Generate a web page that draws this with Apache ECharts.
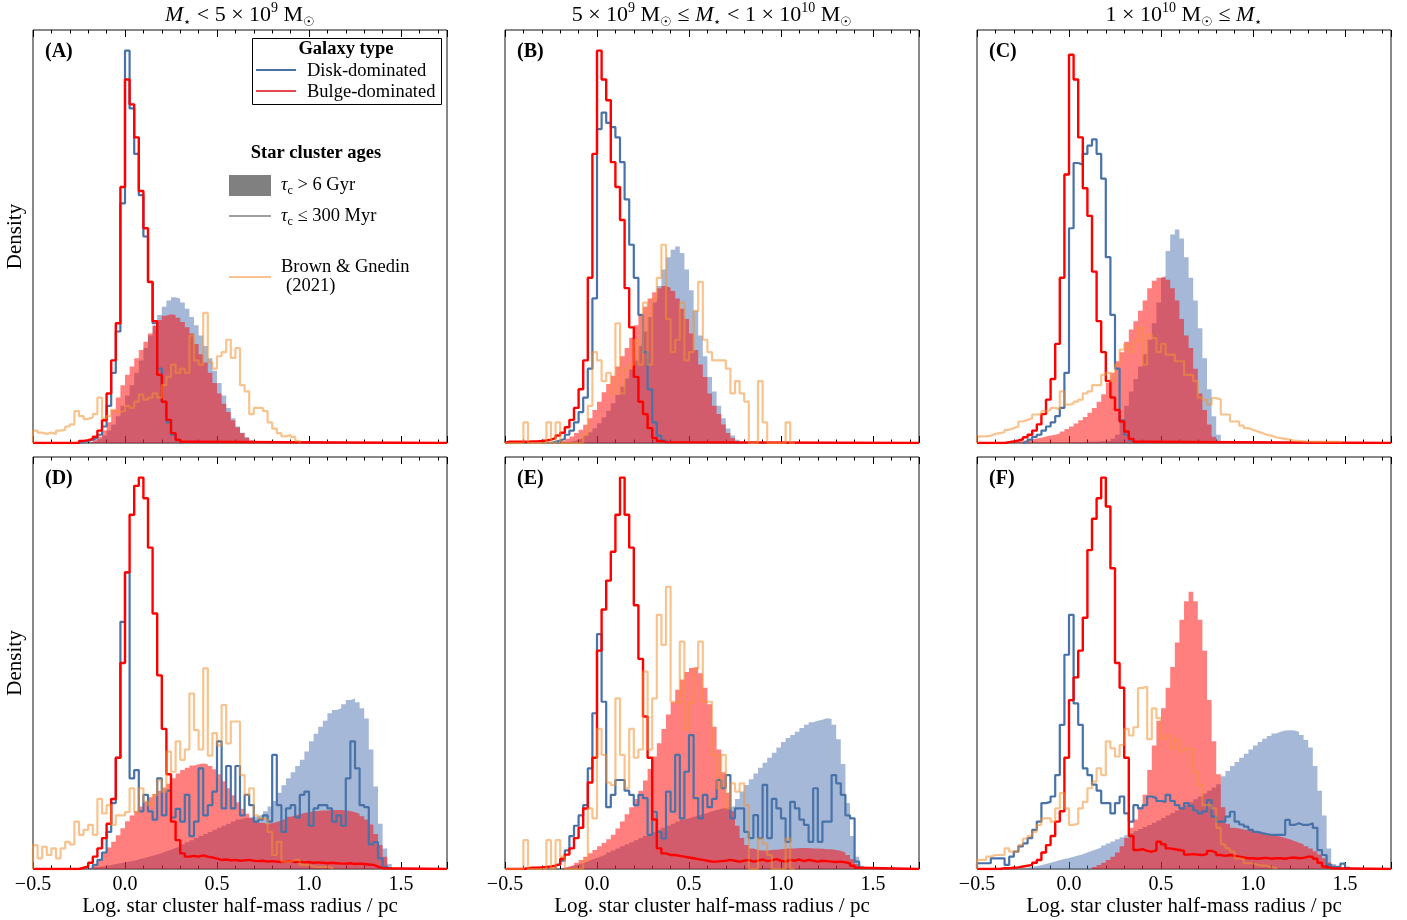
<!DOCTYPE html>
<html>
<head>
<meta charset="utf-8">
<script src="https://cdn.jsdelivr.net/npm/echarts@6/dist/echarts.min.js"></script>
<style>html,body{margin:0;padding:0;background:#fff}#chart{width:1407px;height:920px}</style>
</head>
<body>
<div id="chart"></div>
<script>
// histogram bins: width 0.025 in log r, bin k starts at -0.5 + k*0.025
var BIN = 0.025, X_MIN = -0.5, X_MAX = 1.75;
var xTickLabels = [-0.5, 0, 0.5, 1, 1.5];
var panelLabels = ['(A)', '(B)', '(C)', '(D)', '(E)', '(F)'];
var massTitles = [
  '{i|M}{sub|⋆} < 5 × 10{sup|9} M{sub|☉}',
  '5 × 10{sup|9} M{sub|☉} ≤ {i|M}{sub|⋆} < 1 × 10{sup|10} M{sub|☉}',
  '1 × 10{sup|10} M{sub|☉} ≤ {i|M}{sub|⋆}'
];

// (A) disk-dominated, M < 5e9
var aDiskOld0 = 12;
var aDiskOld = [0.3,0.5,1,1.8,3,4.5,6.5,9,11.5,14,17,20,23,26,28.5,31,33,34.5,35.3,35,34,32.5,30.5,28.5,26,23.5,20.5,17.5,14.5,11.5,8.5,6,4,2.5,1.4,0.6,0.2];
var aBulgeOld0 = 12;
var aBulgeOld = [0.3,0.8,1.5,3,5,8,11,14,16.5,18.5,20.5,22.5,24.5,26.5,28.3,29.8,30.8,31.2,31,30.3,29.3,28,26.5,24,21.5,19.5,17,14.5,12,9.5,7.5,5.5,3.8,2.4,1.3,0.6,0.2];
var aDiskYoung0 = 10;
var aDiskYoung = [0.3,0.5,0.8,1.2,2,4,9,17,27,58,95,81,70,60,50,39,29,18,10,5,2,0.7,0.2];
var aBulgeYoung0 = 10;
var aBulgeYoung = [0.5,0.7,1,1.5,3,5.5,12,20,29,62,88,82,74,61,52,39,29.5,16.5,10,5.6,2.4,0.8,0.3];
var aBG0 = 0;
var aBG = [3,2.5,2.2,2.5,2.2,3,3.2,4,4.5,7.7,6.5,5.8,6.2,7,11,6,6.5,8,7.5,7.7,9,8.5,10,11.7,10.5,11,12,11,14,16,19,17,18,17,26,20,19,31.5,19.5,18,21,22,25,20.6,23,14,12.5,7,8.5,8.5,7.7,5,3.5,2.4,1.6,2,1.5,0.5];

// (B)
var bDiskOld0 = 12;
var bDiskOld = [0.2,0.3,0.5,0.8,1.2,1.8,2.6,3.6,4.8,6.2,7.8,9.6,11.6,13.6,15.6,17.8,20,23.5,27,30.5,34,38,42,45,46.8,47.6,46,42,37,32,26,21,16,12.5,9,6,3.5,1.8,0.8,0.2];
var bBulgeOld0 = 12;
var bBulgeOld = [0.5,1,1.6,2.4,3.2,4.4,6,8,10,12.3,14.3,16.3,18.5,21,23,25.5,28.5,31,33,35,36.5,37.5,38,37.6,36.8,35,32.5,30,26.5,22.5,19,16,12,9,7,4.5,2.4,1.2,0.4];
var bDiskYoung0 = 10;
var bDiskYoung = [0.3,0.6,1,2,3,5,7.5,11,18,35,76,80,77.5,76.5,74,68,59,48,40,31,22,13,5,1.8,0.6];
var bBulgeYoung0 = 0;
var bBulgeYoung = [0.3,0.3,0.3,0.3,0.3,0.4,0.4,0.5,0.6,0.8,1.2,1.8,2.5,3.8,5.6,8.5,13,20,40,70,95,88,83,68,62,54,37.5,28,16,10,7,3.6,1.2,0.5,0.2];
var bBG0 = 0;
var bBG = [0,0,0,0,5,0,0,0,0,5,0,5,0,0,0,0,0,2,9,22,20,15,17,12,29,12,18,19,25,19,34,19,35,40,48,30,22,25,34,20,22,32,39,25,22,20,20,20,18,12,15,12,10,0,0,15,5,0,0,0,0,5,0];

// (C)
var cDiskOld0 = 20;
var cDiskOld = [0.2,0.2,0.2,0.3,0.3,0.3,0.4,0.4,0.5,1,2,5,9,12.5,15.5,18.5,21.5,25,29,34,40,46.5,50.5,51.7,49.5,45,40,34.5,27.8,20.5,13,6.5,2,0.4];
var cBulgeOld0 = 8;
var cBulgeOld = [0.3,0.5,0.7,0.9,1.1,1.3,1.6,1.8,2,2.3,2.8,3.4,4,4.7,5.5,6.3,7.3,8.5,10,11.8,14.5,17,19.8,22,24.5,27.5,29.5,32,34.5,37.5,39.3,40,40.4,39.5,37.5,34.5,30,26,23,18,12,8,4.5,1.5,0.3];
var cDiskYoung0 = 10;
var cDiskYoung = [0.3,0.8,1.5,2,3,4,5,6.5,8.5,17,52,67.8,67.4,70,72,73.5,70,64,45,31,18,5.5,2,0.7,0.2];
var cBulgeYoung0 = 6;
var cBulgeYoung = [0.2,0.4,0.6,0.9,1.4,2,3,4.5,7,10.5,15.5,24,40,65,94,88,74,61.7,55,41.5,29.5,22,15,11,8,5.2,2.8,1,0.3];
var cBG0 = 0;
var cBG = [1.6,1.6,1.8,2.2,2.4,2.6,3.2,3.6,4,5.2,5.6,6,6.9,7,7.7,8,8.5,8.2,12.5,9.3,9.5,10,10.5,12,12.5,14,14,16.5,17,15,19,22.6,23.8,22,24.6,27.8,19,26.2,25.4,22,24,21.4,21.4,19.8,19.8,16.5,16.5,15,11,10.5,9.3,10.9,10.5,6.9,6.9,5.2,5.2,4.2,3.6,3.2,2.8,2.4,2,1.8,1.4,1.2,1,0.8,0.6,0.5,0.4,0.3,0.3,0.3,0.3,0.3,0.3,0.3,0.3];

// (D) bulge-dominated
var dDiskOld0 = 10;
var dDiskOld = [0.2,0.3,0.4,0.5,0.6,0.8,1,1.2,1.4,1.6,1.8,2,2.3,2.6,2.9,3.2,3.5,3.9,4.3,4.7,5.1,5.5,6,6.5,7,7.5,8,8.5,9,9.5,10,10.5,11,11.5,12,12.3,12.5,12.6,12.8,13.2,14,15.2,16.5,18.5,20.3,22,23.5,25,26.5,28.5,31,32.8,34.5,36,37.8,38.6,39,40,41,41.4,40.5,39,36.5,29,20,11,5,1.2];
var dBulgeOld0 = 12;
var dBulgeOld = [0.3,1,2.4,3.9,5.2,6.6,8.2,9.9,11.6,13,14.1,15.2,16.3,17.4,18.2,19,19.8,20.7,22,23.2,24,24.6,25.1,25.4,25.6,25.5,25,24.2,23,21.3,19.6,17.9,16.2,14.6,13.4,12.4,11.7,11.2,11,11.1,11.4,11.8,12.2,12.7,13,13.3,13.6,13.8,14,14.1,14.2,14.2,14.3,14.3,14.3,14.2,14.1,13.8,13.4,12.8,12,10.8,8.5,5.8,3,0.5];
var dDiskYoung0 = 13;
var dDiskYoung = [1,2.2,4,9,16,27,60,72,22,24,14,18,14,12,22,13,19,12.5,14.6,11.5,18,8,11.5,24.4,13,15.5,18.8,31,14.7,25,14.7,25,13,18,15.5,11.5,12,13,11.5,27.7,15.5,9,14.7,15.5,12.5,18,18.8,10.5,14.7,15.5,15.5,14.7,11.5,13,10.5,22,31,24.4,15.5,15,6,6.5,2.6,0.5];
var dBulgeYoung0 = 10;
var dBulgeYoung = [0.3,0.6,1.5,3,5,7.5,11,17,27,50,72,86,93,95,90,78,62,47,34,23,11.5,7,3.8,3,3.2,3,3.3,3,2.8,2.5,2.2,2.3,2.1,2.2,2,2.1,2.2,2,1.9,2,1.8,1.9,1.8,1.7,1.8,1.9,1.7,1.8,1.6,1.7,1.5,1.6,1.5,1.4,1.5,1.4,1.3,1.3,1.4,1.2,1.3,1.2,1.1,1,0.6,0.2];
var dBG0 = 0;
var dBG = [5.8,2.6,5.4,3.4,5,2.6,5,6.6,6,11.5,8.3,9.5,10.7,8.3,17,13.5,15.5,10.7,13,13,13.8,19.6,13.8,19.6,16.3,15.5,18,21.6,18.8,28.5,23.6,31,26.5,29,42.6,33.7,29,48.7,27.5,33,30,39.8,30.5,35.8,35.8,22.8,18,19.6,13,12.3,12,9,3.4,6.6,1.8,1.8,2.2,2.2,1,1,0.6,0.5,0.5,0.5,0.3];

// (E)
var eDiskOld0 = 12;
var eDiskOld = [0.3,0.5,0.8,1.1,1.5,1.9,2.3,2.7,3.1,3.5,4,4.5,5,5.5,6,6.5,7,7.5,8,8.5,9,9.5,10,10.5,11,11.5,12,12.3,12.6,13,13.3,13.6,14,14.3,14.6,14.8,15,15.3,17,18.8,20.4,21.8,23.2,24.6,25.8,27,28.2,29.5,30.8,31.8,32.5,33.3,34.2,35,35.6,36,36.2,36.6,36.4,35,31.5,25.5,16,8,3,0.8];
var eBulgeOld0 = 12;
var eBulgeOld = [0.3,0.6,1,1.5,2.2,3,3.8,4.6,5.5,6.3,7.2,8.3,9.8,11.5,13.3,15,17,19,21.5,24.3,27.3,30.5,34,37.5,40.5,43.5,46,47.8,48.8,49.1,47.5,44,40,34.5,29,23.5,18.5,14,10.5,7.5,5.8,5,4.6,4.5,4.5,4.6,4.7,4.8,4.9,5,5,5.1,5.1,5.1,5,5,4.9,4.8,4.8,4.6,4.4,4,3.4,2.4,1.2,0.3];
var eDiskYoung0 = 11;
var eDiskYoung = [1,2,4.5,8,10.5,13,15.5,24.4,37.8,57,40.6,15,18,21.6,21.6,19,18,15.5,18,17.2,8.3,13.9,9,7.4,18.8,13.9,27.7,12.3,23.6,32.5,17.2,12.3,18,15,17,21.6,19.6,22.8,12.3,14.7,14.7,9,7.5,13.1,7.5,20.4,7.5,17,14.7,12.3,6.6,16.3,14.7,12,10.7,6.6,19.6,6.6,11.5,11.5,22.8,20.8,18,13,12.3,1.8,0.3];
var eBulgeYoung0 = 4;
var eBulgeYoung = [0.2,0.3,0.3,0.4,0.5,0.6,0.8,1.2,2.5,3.5,5,7.5,10,14.7,21,27,53,63,70,77,86,95,86,78,64,51,37,27,12,5,3.8,3.4,3.4,3.2,3,2.8,2.6,2.4,2.2,2,1.8,1.8,1.9,2,2.2,2,1.8,2,2.2,1.8,2,2.3,1.9,2.1,2.4,2,1.8,2.2,2,2.3,1.9,2.2,2,1.8,2,1.9,1.8,1.7,1.8,1.6,1.4,0.8,0.3];
var eBG0 = 0;
var eBG = [0,0,0,0,7,0,0,0,0,7,0,7,3,0,0,0,0,2,14.7,12.3,34,27.7,21,20.4,41.4,27.7,19.6,34,27,29,47.9,29,41.4,61.7,54.4,68.5,40.6,40.2,55.2,34,40.4,48.7,55.2,40.6,40.6,27.7,19.6,27.7,14.7,20.8,18.8,20.8,15.5,0,0,7.4,6.2,3.4,0,0,0,7.4,0];

// (F)
var fDiskOld0 = 10;
var fDiskOld = [0.3,0.5,0.7,0.9,1.2,1.5,1.8,2.1,2.4,2.7,3,3.3,3.6,4,4.4,4.8,5.2,5.7,6.2,6.7,7.2,7.7,8.2,8.7,9.2,9.7,10.2,10.7,11.2,11.8,12.4,13,13.6,14.2,14.8,15.5,16.2,16.9,17.6,18.3,19,19.8,20.6,22.5,23.8,25,26,27,28,29,30,30.8,31.6,32.3,32.9,33.3,33.6,33.7,33.6,33.3,32.5,31.3,29.5,25,19,13,5,1.2,0.2];
var fBulgeOld0 = 25;
var fBulgeOld = [0.5,1,1.5,2.2,3,4,5.5,7.5,10,12,15,18,24,30,36,39,44,49,55,60.5,65,67.3,65,60.5,53,41,31,23,15,11,10,9.8,9.6,9.4,9.2,9,8.7,8.5,8.3,8.1,7.8,7.5,7.2,6.8,6.4,6,5.5,5,4.3,3.5,2.6,1.6,0.8,0.2];
var fDiskYoung0 = 0;
var fDiskYoung = [1.4,1.4,1.4,2.6,2.6,2.6,1,3,4.2,5.5,6.2,7.5,9.5,11.5,16,16.3,17.6,22.8,35,52,61.7,40.2,35,24.4,22.8,20.5,19,16,16,13.5,16,17.6,13.5,11.5,15.5,14.7,15.5,17.6,17.2,16.5,16.3,18,16.5,15.5,14.7,16,15.3,14.2,13.5,14,16.7,12.7,11.5,11.5,12.7,13.9,11.5,10.8,10.3,9.5,9,8.7,8.5,8.3,8.3,8.3,8.3,11.9,10.7,11.1,10.7,10.7,11.1,10,4.6,3.4,1,0.5,0.5,1.3,0.3];
var fBulgeYoung0 = 5;
var fBulgeYoung = [0.2,0.2,0.3,0.4,0.6,0.8,1,1.5,2.2,4,5.8,8,11.5,14,27,41,46.5,53,61,77.4,85,90,95,88,73,50,44,27,8,4.6,4.8,4.4,4.2,4.5,6.6,6,5,4.8,4.6,4.4,3.5,3.6,3.5,3.4,3.6,4.4,4,3.4,3.2,3.4,3.2,3,2.8,2.6,2.6,2.5,2.6,2.7,2.5,2.6,2.6,2.5,2.7,2.8,2.6,2.7,3,3,2.5,1.5,0.6,0.2];
var fBG0 = 0;
var fBG = [2.2,2.2,3,3.4,3.4,3.4,5,4.2,4.2,5.8,7.4,8,9,10.7,12.3,12.3,11.5,14.7,18.4,14.7,10.7,11,14.7,16.3,19.6,21.2,24.4,22.8,31,29.3,27.3,30.1,34,32.4,34.4,43.9,44.3,31.5,39,36.6,31.5,32.4,29.3,31.5,28.5,29.3,29.3,23.6,20.4,15.5,15.5,14.7,10,6,5,4.2,2.6,2.4,1.4,1.4,1,0.8,0.8,0.4,0.3];

var panels = [
  [aDiskOld, aDiskOld0, aBulgeOld, aBulgeOld0, aDiskYoung, aDiskYoung0, aBulgeYoung, aBulgeYoung0, aBG, aBG0],
  [bDiskOld, bDiskOld0, bBulgeOld, bBulgeOld0, bDiskYoung, bDiskYoung0, bBulgeYoung, bBulgeYoung0, bBG, bBG0],
  [cDiskOld, cDiskOld0, cBulgeOld, cBulgeOld0, cDiskYoung, cDiskYoung0, cBulgeYoung, cBulgeYoung0, cBG, cBG0],
  [dDiskOld, dDiskOld0, dBulgeOld, dBulgeOld0, dDiskYoung, dDiskYoung0, dBulgeYoung, dBulgeYoung0, dBG, dBG0],
  [eDiskOld, eDiskOld0, eBulgeOld, eBulgeOld0, eDiskYoung, eDiskYoung0, eBulgeYoung, eBulgeYoung0, eBG, eBG0],
  [fDiskOld, fDiskOld0, fBulgeOld, fBulgeOld0, fDiskYoung, fDiskYoung0, fBulgeYoung, fBulgeYoung0, fBG, fBG0]
];

var SERIF = '"Liberation Serif", "DejaVu Serif", serif';
var BLUE = '#4872a8';
var BLUE_FILL = 'rgba(76,114,176,0.5)';
var RED_FILL = 'rgba(255,0,0,0.5)';
var ORANGE = 'rgba(242,145,50,0.55)';

// turn bin heights into a step outline (optionally padded with zeros over the whole axis)
function steps(vals, first, pad) {
  var pts = [];
  if (pad) pts.push([X_MIN, 0]);
  pts.push([+(X_MIN + first * BIN).toFixed(4), 0]);
  for (var i = 0; i < vals.length; i++) {
    pts.push([+(X_MIN + (first + i) * BIN).toFixed(4), vals[i]]);
  }
  var end = +(X_MIN + (first + vals.length) * BIN).toFixed(4);
  pts.push([end, vals[vals.length - 1]]);
  pts.push([end, 0]);
  if (pad) pts.push([X_MAX, 0]);
  return pts;
}

var lefts = [33, 505, 977], tops = [30, 457], heights = [413, 412];
var grids = [], xAxes = [], yAxes = [], series = [];

function fmt(v) {
  var s = Math.abs(v).toFixed(1);
  return v < 0 ? '\u2212' + s : s;
}

for (var p = 0; p < 6; p++) {
  var row = Math.floor(p / 3), col = p % 3, bottom = row === 1;
  grids.push({left: lefts[col], top: tops[row], width: 414, height: heights[row],
    show: true, borderColor: '#111', borderWidth: 1, backgroundColor: 'transparent'});
  ['bottom', 'top'].forEach(function (pos) {
    var showLab = bottom && pos === 'bottom';
    xAxes.push({
      gridIndex: p, type: 'value', position: pos, min: X_MIN, max: X_MAX, interval: 0.5,
      axisLine: {show: false}, splitLine: {show: false},
      axisTick: {inside: true, length: 7, lineStyle: {color: '#000', width: 1}},
      minorTick: {show: true, splitNumber: 5, length: 3.5, lineStyle: {color: '#000', width: 1}},
      axisLabel: {show: showLab, showMaxLabel: false, margin: 6, formatter: fmt,
        fontFamily: SERIF, fontSize: 20, color: '#000'},
      name: showLab ? 'Log. star cluster half-mass radius / pc' : '',
      nameLocation: 'middle', nameGap: 26,
      nameTextStyle: {fontFamily: SERIF, fontSize: 21, color: '#000'}
    });
  });
  yAxes.push({
    gridIndex: p, type: 'value', min: 0, max: 100, show: true,
    axisLine: {show: false}, axisTick: {show: false}, axisLabel: {show: false}, splitLine: {show: false},
    name: col === 0 ? 'Density' : '', nameLocation: 'middle', nameGap: 7,
    nameTextStyle: {fontFamily: SERIF, fontSize: 21, color: '#000'}
  });

  var d = panels[p], xi = p * 2;
  series.push({type: 'line', xAxisIndex: xi, yAxisIndex: p, step: 'end', symbol: 'none',
    data: steps(d[0], d[1]), lineStyle: {width: 0}, areaStyle: {color: BLUE_FILL, opacity: 1}});
  series.push({type: 'line', xAxisIndex: xi, yAxisIndex: p, step: 'end', symbol: 'none',
    data: steps(d[2], d[3]), lineStyle: {width: 0}, areaStyle: {color: RED_FILL, opacity: 1}});
  series.push({type: 'line', xAxisIndex: xi, yAxisIndex: p, step: 'end', symbol: 'none',
    data: steps(d[4], d[5]), lineStyle: {color: BLUE, width: 2.2}});
  series.push({type: 'line', xAxisIndex: xi, yAxisIndex: p, step: 'end', symbol: 'none',
    data: steps(d[6], d[7], true), lineStyle: {color: '#ff0000', width: 2.4}});
  series.push({type: 'line', xAxisIndex: xi, yAxisIndex: p, step: 'end', symbol: 'none',
    data: steps(d[8], d[9]), lineStyle: {color: ORANGE, width: 2.2}});
}

var richTitle = {
  i: {fontStyle: 'italic', fontFamily: SERIF, fontSize: 22, lineHeight: 28, verticalAlign: 'middle'},
  sup: {fontFamily: SERIF, fontSize: 14, lineHeight: 13, verticalAlign: 'top'},
  sub: {fontFamily: SERIF, fontSize: 13, lineHeight: 13, verticalAlign: 'bottom'}
};
var richLeg = {
  i: {fontStyle: 'italic', fontFamily: SERIF, fontSize: 18, lineHeight: 24, verticalAlign: 'middle'},
  sub: {fontFamily: SERIF, fontSize: 12, lineHeight: 12, verticalAlign: 'bottom'}
};

var graphics = [];
var centers = [240, 712, 1184];
for (var c = 0; c < 3; c++) {
  graphics.push({type: 'text', x: centers[c], y: 15, z: 100, style: {
    text: massTitles[c], rich: richTitle, font: '22px ' + SERIF, lineHeight: 28,
    textAlign: 'center', textVerticalAlign: 'middle', fill: '#000'}});
}
for (var q = 0; q < 6; q++) {
  graphics.push({type: 'text', x: lefts[q % 3] + 12, y: tops[Math.floor(q / 3)] + 22, z: 100, style: {
    text: panelLabels[q], font: 'bold 20px ' + SERIF, textVerticalAlign: 'middle', fill: '#000'}});
}
function legText(x, y, t, bold) {
  return {type: 'text', x: x, y: y, z: 101, style: {text: t, rich: richLeg, lineHeight: 24,
    font: (bold ? 'bold ' : '') + '18.5px ' + SERIF, textVerticalAlign: 'middle',
    textAlign: bold ? 'center' : 'left', fill: '#000'}};
}
graphics.push(
  {type: 'rect', z: 100, shape: {x: 252.5, y: 38.5, width: 189, height: 66}, style: {fill: '#fff', stroke: '#000', lineWidth: 1}},
  legText(346, 49, 'Galaxy type', true),
  {type: 'line', z: 101, shape: {x1: 256, y1: 70, x2: 296, y2: 70}, style: {stroke: BLUE, lineWidth: 2}},
  legText(307, 71, 'Disk-dominated'),
  {type: 'line', z: 101, shape: {x1: 256, y1: 91, x2: 296, y2: 91}, style: {stroke: '#e8474e', lineWidth: 2}},
  legText(307, 92, 'Bulge-dominated'),
  legText(316, 153, 'Star cluster ages', true),
  {type: 'rect', z: 101, shape: {x: 229, y: 175, width: 42, height: 21}, style: {fill: '#808080'}},
  legText(281, 185, '{i|τ}{sub|c} > 6 Gyr'),
  {type: 'line', z: 101, shape: {x1: 229, y1: 216, x2: 271, y2: 216}, style: {stroke: '#808080', lineWidth: 1.5}},
  legText(281, 216, '{i|τ}{sub|c} ≤ 300 Myr'),
  {type: 'line', z: 101, shape: {x1: 229, y1: 277, x2: 271, y2: 277}, style: {stroke: ORANGE, lineWidth: 2}},
  legText(281, 267, 'Brown & Gnedin'),
  legText(286, 286, '(2021)')
);

var chart = echarts.init(document.getElementById('chart'));
chart.setOption({
  animation: false,
  backgroundColor: '#fff',
  grid: grids,
  xAxis: xAxes,
  yAxis: yAxes,
  series: series,
  graphic: graphics
});
</script>
</body>
</html>
